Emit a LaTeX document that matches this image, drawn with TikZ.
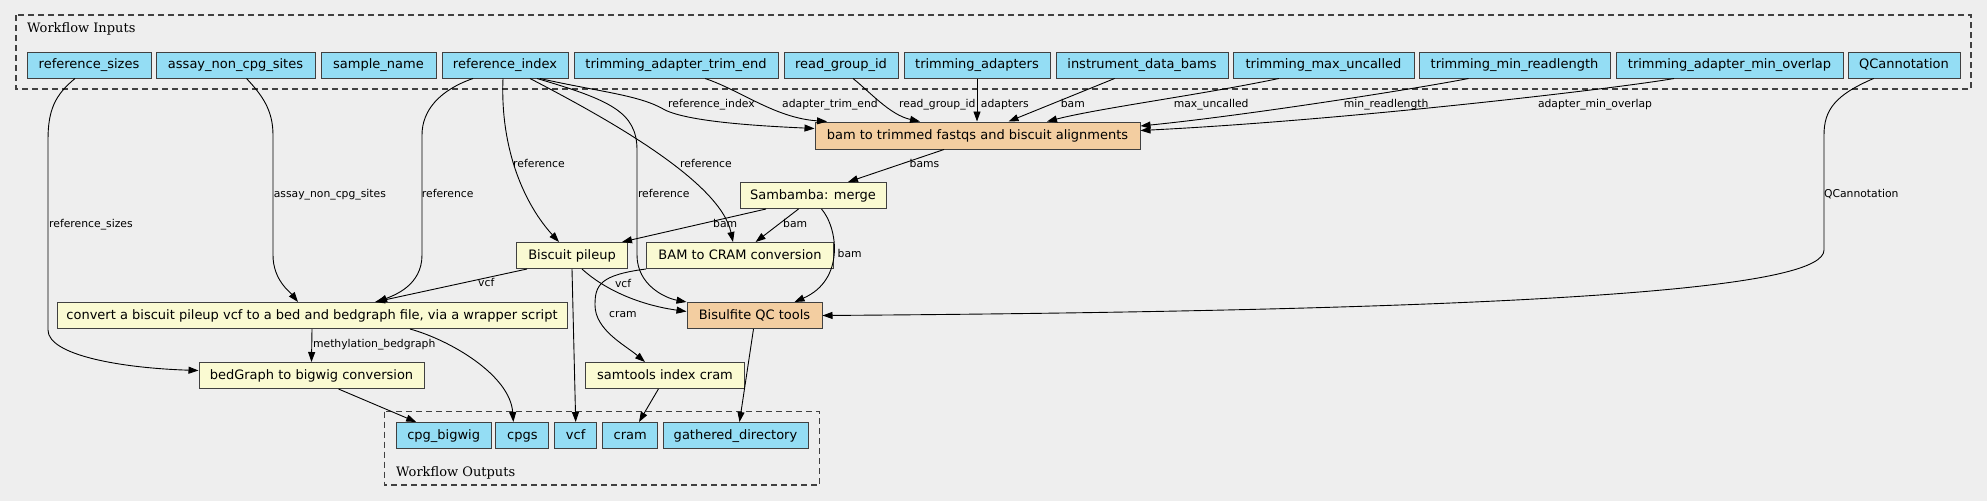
\documentclass[tikz,border=0pt]{standalone}
\usepackage{fontspec}
\setmainfont{DejaVu Sans}
\newfontfamily\clusterfont{DejaVu Serif}
\usetikzlibrary{arrows.meta}

\definecolor{bgcol}{HTML}{EEEEEE}
\definecolor{iocol}{HTML}{94DDF4}
\definecolor{stepcol}{HTML}{FAFAD2}
\definecolor{subcol}{HTML}{F3CEA1}

\tikzset{
  iobox/.style={draw=black!75, line width=1pt, fill=iocol, minimum height=26pt,
    inner sep=1pt, font=\fontsize{13}{15}\selectfont, text height=9.5pt, text depth=2.5pt},
  stepbox/.style={iobox, fill=stepcol},
  subbox/.style={iobox, fill=subcol},
  elabel/.style={anchor=west, inner sep=0pt, font=\fontsize{10.8}{12}\selectfont,
    text height=8pt, text depth=2.5pt},
  cluster/.style={draw=black!75, line width=1.1pt, dash pattern=on 6pt off 4pt},
  flow/.style={-{Triangle[length=10pt,width=7pt]}, line width=0.9pt},
}

\begin{document}
\begin{tikzpicture}[x=1pt, y=-1pt]
  \fill[bgcol] (0,0) rectangle (1987,501);%
  \useasboundingbox (0,0) rectangle (1987,501);%

  % Clusters
  \draw[cluster] (16,15) rectangle (1971,89);%
  \node[anchor=base west, inner sep=0pt, font=\clusterfont\fontsize{13}{15}\selectfont]
    (inlabel) at (27,32) {Workflow Inputs};%
  \draw[cluster] (384.6,411.7) rectangle (819.8,485);%
  \node[anchor=base west, inner sep=0pt, font=\clusterfont\fontsize{13}{15}\selectfont]
    (outlabel) at (396,476) {Workflow Outputs};%

  % Inputs
  \node[iobox, minimum width=124pt] (refsizes) at (89,65) {reference\_sizes};%
  \node[iobox, minimum width=159pt] (assay) at (235.5,65) {assay\_non\_cpg\_sites};%
  \node[iobox, minimum width=115pt] (sample) at (378.5,65) {sample\_name};%
  \node[iobox, minimum width=126pt] (refindex) at (505,65) {reference\_index};%
  \node[iobox, minimum width=204pt] (trimend) at (676,65) {trimming\_adapter\_trim\_end};%
  \node[iobox, minimum width=114pt] (rgid) at (841,65) {read\_group\_id};%
  \node[iobox, minimum width=146pt] (tadapters) at (977,65) {trimming\_adapters};%
  \node[iobox, minimum width=172pt] (idbams) at (1142,65) {instrument\_data\_bams};%
  \node[iobox, minimum width=181pt] (maxunc) at (1323.5,65) {trimming\_max\_uncalled};%
  \node[iobox, minimum width=191pt] (minrl) at (1514.5,65) {trimming\_min\_readlength};%
  \node[iobox, minimum width=227pt] (minov) at (1729.5,65) {trimming\_adapter\_min\_overlap};%
  \node[iobox, minimum width=112pt] (qcann) at (1904,65) {QCannotation};%

  % Steps
  \node[subbox, minimum width=325pt, minimum height=27pt] (bamtrim) at (977.5,135.5)
    {bam to trimmed fastqs and biscuit alignments};%
  \node[stepbox, minimum width=146pt] (merge) at (813,195.5) {Sambamba: merge};%
  \node[stepbox, minimum width=111pt] (pileup) at (572,255.5) {Biscuit pileup};%
  \node[stepbox, minimum width=187pt] (bam2cram) at (740,255.5) {BAM to CRAM conversion};%
  \node[subbox, minimum width=135pt] (qctools) at (754.5,315.5) {Bisulfite QC tools};%
  \node[stepbox, minimum width=510pt] (convert) at (312,315.5)
    {convert a biscuit pileup vcf to a bed and bedgraph file, via a wrapper script};%
  \node[stepbox, minimum width=225pt] (bedgraph) at (311.5,375.5) {bedGraph to bigwig conversion};%
  \node[stepbox, minimum width=159pt] (samidx) at (665,375.5) {samtools index cram};%

  % Outputs
  \node[iobox, minimum width=95pt] (cpgbigwig) at (443.7,435.5) {cpg\_bigwig};%
  \node[iobox, minimum width=53pt] (cpgs) at (522.4,435.5) {cpgs};%
  \node[iobox, minimum width=42.5pt] (vcfout) at (575.7,435.5) {vcf};%
  \node[iobox, minimum width=55pt] (cramout) at (630.3,435.5) {cram};%
  \node[iobox, minimum width=145pt] (gathered) at (735.5,435.5) {gathered\_directory};%

  % arrows
  % -- into bam to trimmed fastqs
  \draw[flow] ([xshift=35pt]refindex.south) .. controls (600,92) and (640,95) .. (665,110)
    .. controls (690,122) and (760,126) .. ([yshift=7pt]bamtrim.west);%
  \draw[flow] ([xshift=29pt]trimend.south) .. controls (740,90) and (775,118) ..
    ([xshift=-150.5pt]bamtrim.north);%
  \draw[flow] ([xshift=12pt]rgid.south) .. controls (870,92) and (890,115) ..
    ([xshift=-57.5pt]bamtrim.north);%
  \draw[flow] (tadapters.south) -- (tadapters.south |- bamtrim.north);%
  \draw[flow] ([xshift=-27.4pt]idbams.south) -- ([xshift=31pt]bamtrim.north);%
  \draw[flow] ([xshift=-44.7pt]maxunc.south) .. controls (1200,95) and (1100,108) ..
    ([xshift=69.5pt]bamtrim.north);%
  \draw[flow] ([xshift=-46pt]minrl.south) .. controls (1420,88) and (1250,115) ..
    ([yshift=9.5pt]bamtrim.east);%
  \draw[flow] ([xshift=-55.5pt]minov.south) .. controls (1620,88) and (1350,120) ..
    ([yshift=5pt]bamtrim.east);%
  % -- merge and its users
  \draw[flow] ([xshift=-33.5pt]bamtrim.south) -- ([xshift=35pt]merge.north);%
  \draw[flow] ([xshift=-47pt]merge.south) -- ([xshift=-6pt]pileup.north east);%
  \draw[flow] ([xshift=-14.5pt]merge.south) -- ([xshift=15.6pt]bam2cram.north);%
  \draw[flow] ([xshift=8.5pt]merge.south) .. controls (838,228) and (845,280) ..
    ([xshift=40pt]qctools.north);%
  % -- reference
  \draw[flow] ([xshift=-32pt]refindex.south) .. controls (440,90) and (422,110) .. (422,135)
    -- (422,255) .. controls (422,285) and (395,295) .. ([xshift=65pt]convert.north);%
  \draw[flow] ([xshift=-2pt]refindex.south) .. controls (500,150) and (525,205) ..
    ([xshift=-13pt]pileup.north);%
  \draw[flow] ([xshift=25pt]refindex.south) .. controls (600,115) and (720,180) ..
    ([xshift=-7pt]bam2cram.north);%
  \draw[flow] ([xshift=32pt]refindex.south) .. controls (610,100) and (637,112) .. (637,150)
    -- (637,255) .. controls (637,285) and (665,298) .. (qctools.north west);%
  % -- other inputs
  \draw[flow] ([xshift=-14pt]refsizes.south) .. controls (55,95) and (48,110) .. (48,140)
    -- (48,330) .. controls (48,355) and (120,368) .. ([yshift=5pt]bedgraph.west);%
  \draw[flow] ([xshift=11pt]assay.south) .. controls (262,95) and (273,110) .. (273,135)
    -- (273,255) .. controls (273,280) and (290,292) .. ([xshift=-14pt]convert.north);%
  \draw[flow] ([xshift=-30.4pt]qcann.south) .. controls (1835,95) and (1824,110) .. (1824,135)
    -- (1824,250) .. controls (1824,285) and (1600,310) .. (qctools.east);%
  % -- pileup, conversions
  \draw[flow] ([xshift=-45pt]pileup.south) -- ([xshift=63pt]convert.north);%
  \draw[flow] ([xshift=10pt]pileup.south) .. controls (605,290) and (640,305) ..
    ([yshift=4pt]qctools.west);%
  \draw[flow] (pileup.south) -- (vcfout.north);%
  \draw[flow] (bam2cram.south west) .. controls (600,275) and (595,285) .. (595,305)
    .. controls (595,330) and (625,345) .. ([xshift=-20pt]samidx.north);%
  \draw[flow] (convert.south) -- (bedgraph.north);%
  \draw[flow] ([xshift=98pt]convert.south) .. controls (450,340) and (510,375) ..
    ([xshift=-9pt]cpgs.north);%
  % -- outputs
  \draw[flow] ([xshift=27pt]bedgraph.south) -- ([xshift=-27.5pt]cpgbigwig.north);%
  \draw[flow] ([xshift=-6.6pt]samidx.south) -- ([xshift=8.7pt]cramout.north);%
  \draw[flow] ([xshift=-1pt]qctools.south) -- ([xshift=4pt]gathered.north);%

  % edge labels
  \node[elabel] (lrefidx) at (668,105) {reference\_index};%
  \node[elabel] (ltrimend) at (782,105) {adapter\_trim\_end};%
  \node[elabel] (lrgid) at (899,105) {read\_group\_id};%
  \node[elabel] (ladapters) at (980.7,105) {adapters};%
  \node[elabel] (lbam) at (1060.6,105) {bam};%
  \node[elabel] (lmaxunc) at (1173.6,105) {max\_uncalled};%
  \node[elabel] (lminrl) at (1343.7,105) {min\_readlength};%
  \node[elabel] (lminov) at (1537.8,105) {adapter\_min\_overlap};%
  \node[elabel] (lbams) at (909.5,165) {bams};%
  \node[elabel] (lrefpile) at (513,165) {reference};%
  \node[elabel] (lrefcram) at (680,165) {reference};%
  \node[elabel] (lassay) at (273.6,195) {assay\_non\_cpg\_sites};%
  \node[elabel] (lrefconv) at (421.7,195) {reference};%
  \node[elabel] (lrefqc) at (637.8,195) {reference};%
  \node[elabel] (lqcann) at (1823.8,195) {QCannotation};%
  \node[elabel] (lrefsizes) at (49,225) {reference\_sizes};%
  \node[elabel] (lbampile) at (713,225) {bam};%
  \node[elabel] (lbamcram) at (783,225) {bam};%
  \node[elabel] (lbamqc) at (837.5,255) {bam};%
  \node[elabel] (lvcfconv) at (478,284) {vcf};%
  \node[elabel] (lvcfqc) at (614.8,285) {vcf};%
  \node[elabel] (lcram) at (609,315) {cram};%
  \node[elabel] (lbedgraph) at (312.9,345) {methylation\_bedgraph};%
\end{tikzpicture}
\end{document}
